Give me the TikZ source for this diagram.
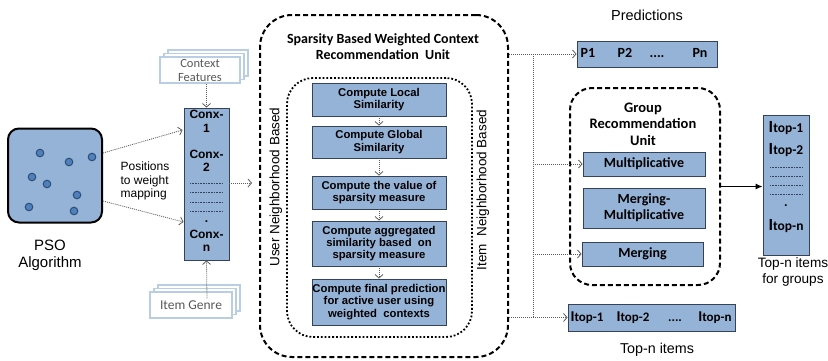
\documentclass[tikz,border=0pt]{standalone}
\usepackage{fontspec}
\setmainfont{Liberation Sans}
\newfontfamily\calfont{Carlito}
\usetikzlibrary{arrows.meta,calc}
\definecolor{boxblue}{RGB}{149,179,215}
\definecolor{boxline}{RGB}{52,66,90}
\definecolor{dotfill}{RGB}{79,129,189}
\definecolor{dotline}{RGB}{44,77,117}
\definecolor{docline}{RGB}{185,205,229}
\definecolor{conncol}{RGB}{90,90,90}
\newcommand{\fs}[2]{\fontsize{#1}{#2}\selectfont}
\tikzset{
  blk/.style={draw=boxline, fill=boxblue, line width=0.9pt, inner sep=0pt, align=center},
  stepbox/.style={blk, minimum width=134pt, font=\fs{11.3}{12.3}\bfseries},
  grpbox/.style={blk, minimum width=122pt, font=\calfont\fs{14}{16}\bfseries},
  conn/.style={draw=conncol, line width=0.8pt, dash pattern=on 1pt off 1pt,
     -{Straight Barb[length=3.5pt,width=8pt,line width=0.8pt]}},
  bus/.style={draw=conncol, line width=0.8pt, dash pattern=on 1pt off 1pt},
  doc/.style={draw=docline, fill=white, line width=1.2pt, inner sep=0pt,
     minimum width=80pt, minimum height=26pt, align=center,
     font=\calfont\fs{12.5}{14}, text=black!65},
  lbl/.style={inner sep=0pt, align=center},
  rowlbl/.style={inner sep=0pt, text height=9.5pt, text depth=2.5pt},
  psodot/.style={fill=dotfill, draw=dotline, line width=1pt},
  fill dots/.style={draw=boxline, line width=0.6pt, dash pattern=on 0.8pt off 0.8pt}
}
\begin{document}
\begin{tikzpicture}[x=1pt,y=-1pt]
\useasboundingbox (0,0) rectangle (828,360);

% PSO
\node[draw=black, fill=boxblue, line width=2pt, rounded corners=11pt,
      minimum width=94pt, minimum height=94pt] (pso) at (55,175.5) {};
\foreach \p in {(40,153),(69,162),(92,157),(32,177),(47,184),(77,195),(29,207),(74,211)}
  \draw[psodot] \p circle[radius=3.8pt];
\node[lbl, font=\fs{15}{17}] (psot) at (50,255) {PSO\\Algorithm};
\node[lbl, font=\fs{12}{13.5}, align=left] (map) at (145,181) {Positions\\to weight\\mapping};

% Conx box
\node[blk, minimum width=45pt, minimum height=152pt] (conx) at (206.5,184) {};
\begin{scope}[font=\fs{12}{13}\bfseries]
\node[rowlbl] (cx1a) at (206.5,115) {Conx-};
\node[rowlbl] (cx1b) at (206.5,129) {1};
\node[rowlbl] (cx2a) at (206.5,155) {Conx-};
\node[rowlbl] (cx2b) at (206.5,168) {2};
\node[rowlbl] (cxdot) at (206.5,219) {.};
\node[rowlbl] (cxna) at (206.5,235) {Conx-};
\node[rowlbl] (cxnb) at (206.5,248) {n};
\end{scope}
\foreach \yy in {183,192,202,211} \draw[fill dots] (190,\yy) -- (223,\yy);

% Context Features (stacked)
\draw[docline, fill=white, line width=1.2pt] (168,50) rectangle (248,76);
\draw[docline, fill=white, line width=1.2pt] (164,53.5) rectangle (244,79.5);
\node[doc] (cf) at (200,70) {Context\\Features};
% Item Genre (stacked)
\draw[docline, fill=white, line width=1.2pt] (158,285) rectangle (240,311);
\draw[docline, fill=white, line width=1.2pt] (154,288.5) rectangle (236,314.5);
\node[doc, minimum width=82pt, font=\calfont\fs{13.5}{14}] (ig) at (191,305) {Item Genre};

\draw[conn] (conx.north |- cf.south) -- (conx.north);
\draw[conn] ($(ig.north)+(16,7)$) -- (conx.south);
\draw[conn] ([yshift=22.5pt]pso.east) -- ([yshift=54pt,xshift=-1pt]conx.west);
\draw[conn] ([yshift=-25.5pt]pso.east) -- ([yshift=-38pt]conx.west);

% SBWC unit
\node[draw=black, line width=2pt, dash pattern=on 5pt off 3pt, rounded corners=32pt,
      minimum width=248pt, minimum height=342pt] (sbwc) at (384,186) {};
\node[lbl, font=\calfont\fs{14}{15.5}\bfseries] (sbwct) at (383,46.5)
  {Sparsity Based Weighted Context\\Recommendation\ \ Unit};
\node[draw=black, line width=1.8pt, dotted, rounded corners=26pt,
      minimum width=185pt, minimum height=259pt] (inner) at (379.5,207.5) {};
\node[lbl, rotate=90, font=\fs{13.5}{15}] (unb) at (276,187) {User Neighborhood Based};
\node[lbl, rotate=90, font=\fs{13.5}{15}] (inb) at (483,190) {Item\ \ Neighborhood Based};

\node[stepbox, minimum height=33pt] (c1) at (379,99.5) {Compute Local\\Similarity};
\node[stepbox, minimum height=32pt] (c2) at (379,142) {Compute Global\\Similarity};
\node[stepbox, minimum height=33pt] (c3) at (379,192.5) {Compute the value of\\sparsity measure};
\node[stepbox, minimum height=45pt] (c4) at (379,243.5) {Compute aggregated\\similarity based\ \ on\\sparsity measure};
\node[stepbox, minimum height=46pt] (c5) at (379,302) {Compute final prediction\\for active user using\\weighted\ \ contexts};
\draw[conn] (c1.south) -- (c2.north);
\draw[conn] (c2.south) -- (c3.north);
\draw[conn] (c3.south) -- (c4.north);
\draw[conn] (c4.south) -- (c5.north);

\draw[conn, shorten >=7pt] (conx.east |- 0,183) -- (sbwc.west |- 0,183);

% Predictions
\node[lbl, font=\fs{14.5}{16}] (predt) at (647,15) {Predictions};
\node[blk, minimum width=140pt, minimum height=26pt] (pbox) at (647,54) {};
\begin{scope}[font=\calfont\fs{14}{16}\bfseries]
\node[rowlbl] (p1) at (588,54) {P1};
\node[rowlbl] (p2) at (625,54) {P2};
\node[rowlbl] (pd) at (657,54) {....};
\node[rowlbl] (pn) at (700,54) {Pn};
\end{scope}

% Group recommendation unit
\node[draw=black, line width=2pt, dash pattern=on 5pt off 3pt, rounded corners=22pt,
      minimum width=150pt, minimum height=197pt] (grp) at (645,186.5) {};
\node[lbl, font=\calfont\fs{14.5}{16.5}\bfseries] (grpt) at (643,124) {Group\\Recommendation\\Unit};
\node[grpbox, minimum height=24pt] (mult) at (644,164) {Multiplicative};
\node[grpbox, minimum height=40pt] (mm) at (644,208) {Merging-\\Multiplicative};
\node[grpbox, minimum height=24pt, minimum width=121pt] (merg) at (642.5,254) {Merging};

% Top-n items (bottom)
\node[blk, minimum width=167pt, minimum height=27pt] (itb) at (651.5,317.5) {};
\begin{scope}[font=\calfont\fs{13}{15}\bfseries]
\node[rowlbl] (ib1) at (587,317.5) {{\fs{15}{15}I}top-1};
\node[rowlbl] (ib2) at (633,317.5) {{\fs{15}{15}I}top-2};
\node[rowlbl] (ibd) at (675,317.5) {....};
\node[rowlbl] (ibn) at (715,317.5) {{\fs{15}{15}I}top-n};
\end{scope}
\node[lbl, font=\fs{14.3}{16}] (itbt) at (657,350) {Top-n items};

% bus from SBWC
\coordinate (bustop) at (533,54);
\coordinate (busbot) at (533,317.5);
\draw[bus] (sbwc.east |- pbox) -- (bustop);
\draw[conn] (bustop) -- (pbox.west);
\draw[bus] (bustop) -- (busbot);
\draw[bus] (sbwc.east |- itb) -- (busbot);
\draw[conn] (busbot) -- (itb.west);
\draw[conn] (bustop |- mult) -- (mult.west);
\draw[conn] (bustop |- merg) -- (merg.west);

% Right box: top-n items for groups
\node[blk, minimum width=46pt, minimum height=140pt] (rbox) at (786,185) {};
\begin{scope}[font=\calfont\fs{13.5}{15}\bfseries]
\node[rowlbl] (r1) at (786,129) {{\fs{17}{17}I}top-1};
\node[rowlbl] (r2) at (786,151) {{\fs{17}{17}I}top-2};
\node[rowlbl] (rd) at (786,203) {.};
\node[rowlbl] (rn) at (786,227) {{\fs{17}{17}I}top-n};
\end{scope}
\foreach \yy in {167,176,185,194} \draw[fill dots] (770,\yy) -- (803,\yy);
\node[lbl, font=\fs{13.6}{16}] (rboxt) at (793,272) {Top-n items\\for groups};
\draw[-{Latex[length=7pt,width=6pt]}, line width=1pt, black] (grp.east) -- (grp.east -| rbox.west);
\end{tikzpicture}
\end{document}
